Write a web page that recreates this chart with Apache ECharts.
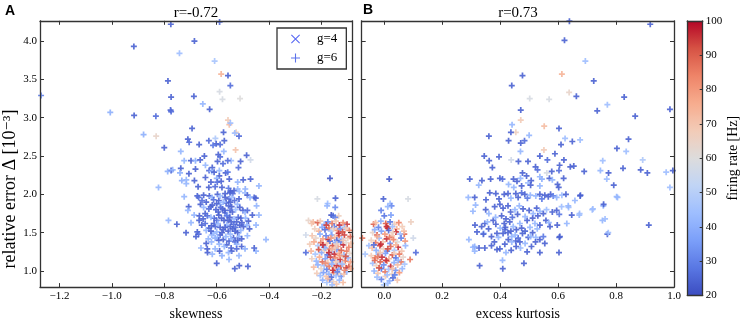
<!DOCTYPE html>
<html><head><meta charset="utf-8">
<script src="https://cdn.jsdelivr.net/npm/echarts@6/dist/echarts.min.js"></script>
<style>html,body{margin:0;padding:0;background:#fff}#c{width:743px;height:326px}</style>
</head><body><div id="c"></div>
<script>
// [skewness, relative error (1e-3), firing rate Hz]
const aSpread = [
[-0.775,4.22,24],[-0.589,4.25,26],[-0.916,3.93,24],[-0.685,4.00,24],[-0.742,3.84,44],[-0.608,3.74,46],[-0.583,3.57,74],[-0.557,3.55,24],[-0.548,3.42,26],[-0.589,3.34,58],[-0.578,3.24,58],[-0.511,3.25,60],[-0.786,3.48,24],[-0.774,3.27,24],[-0.776,3.10,24],[-0.774,3.08,26],[-0.687,3.28,24],[-0.653,3.18,42],[-0.627,3.11,24],[-1.006,3.07,40],[-0.915,3.03,24],[-0.832,3.02,26],[-0.879,2.78,40],[-0.831,2.76,64],[-0.694,2.86,24],[-1.27,3.29,30],[-0.557,2.97,68],[-0.552,2.91,72],[-0.548,2.93,44],[-0.574,2.81,24],[-0.526,2.81,66],[-0.531,2.80,44],[-0.515,2.76,26],[-0.710,2.72,24],[-0.705,2.68,26],[-0.667,2.65,24],[-0.630,2.70,26],[-0.605,2.73,48],[-0.602,2.66,24],[-0.587,2.65,26],[-0.614,2.64,28],[-0.571,2.70,24],[-0.800,2.61,24],[-0.737,2.56,42],[-0.573,2.56,42],[-0.528,2.58,70],[-0.486,2.51,24],[-0.471,2.45,56],[-0.647,2.50,24],[-0.594,2.52,24],[-0.587,2.49,26],
[-0.724,2.44,42],[-0.698,2.44,24],[-0.681,2.44,40],[-0.663,2.45,24],[-0.643,2.38,42],[-0.597,2.43,24],[-0.576,2.40,26],[-0.545,2.44,44],[-0.558,2.44,26],[-0.509,2.43,24],[-0.517,2.35,26],[-0.737,2.34,24],[-0.774,2.31,24],[-0.768,2.32,42],[-0.787,2.30,40],[-0.740,2.28,40],[-0.706,2.27,24],[-0.617,2.35,24],[-0.629,2.31,26],[-0.619,2.30,42],[-0.610,2.29,24],[-0.590,2.31,42],[-0.566,2.28,24],[-0.558,2.29,28],[-0.590,2.24,24],[-0.643,2.22,24],[-0.600,2.21,40],[-0.622,2.16,24],[-0.598,2.16,26],[-0.583,2.17,24],[-0.552,2.20,24],[-0.499,2.19,24],[-0.471,2.20,24],[-0.439,2.11,42],[-0.822,2.09,42],[-0.716,2.14,42],[-0.733,2.18,40],[-0.716,2.19,42],[-0.685,2.18,24],[-0.671,2.10,24],[-0.630,2.09,24],[-0.606,2.10,26],[-0.580,2.09,24],[-0.555,2.08,28],[-0.520,2.07,42],[-0.491,2.07,40],[-0.457,1.96,24],[-0.681,2.33,24],[-0.520,2.16,42],[-0.548,2.04,24],
[-0.724,1.97,42],[-0.674,1.98,24],[-0.669,1.96,26],[-0.650,1.99,24],[-0.628,1.98,24],[-0.618,1.96,42],[-0.597,2.00,24],[-0.586,1.98,44],[-0.568,2.01,24],[-0.549,2.02,24],[-0.539,2.01,26],[-0.534,2.05,24],[-0.514,2.04,44],[-0.492,2.02,44],[-0.483,1.99,24],[-0.473,1.96,42],[-0.451,1.95,24],[-0.568,1.96,24],[-0.553,1.94,24],[-0.543,1.96,44],
[-0.707,1.84,24],[-0.710,1.79,42],[-0.662,1.87,24],[-0.656,1.92,26],[-0.623,1.84,24],[-0.630,1.81,26],[-0.617,1.86,24],[-0.592,1.92,24],[-0.587,1.87,44],[-0.578,1.81,24],[-0.564,1.89,24],[-0.555,1.85,26],[-0.543,1.84,24],[-0.521,1.87,42],[-0.500,1.79,24],[-0.492,1.77,42],[-0.483,1.79,26],[-0.464,1.73,24],[-0.448,1.85,42],[-0.594,1.77,24],[-0.568,1.76,24],[-0.559,1.73,44],[-0.549,1.79,26],
[-0.686,1.73,42],[-0.666,1.72,24],[-0.644,1.75,24],[-0.636,1.72,26],[-0.667,1.66,24],[-0.610,1.69,24],[-0.600,1.66,26],[-0.582,1.69,24],[-0.562,1.72,28],[-0.557,1.66,24],[-0.544,1.64,24],[-0.534,1.68,42],[-0.524,1.64,24],[-0.518,1.70,26],[-0.508,1.69,24],[-0.504,1.63,24],[-0.490,1.69,42],[-0.479,1.65,24],[-0.439,1.73,42],[-0.784,1.66,42],[-0.698,1.63,42],[-0.752,1.61,24],
[-0.657,1.60,24],[-0.644,1.62,26],[-0.630,1.56,24],[-0.610,1.62,24],[-0.605,1.58,26],[-0.600,1.51,42],[-0.587,1.57,24],[-0.575,1.54,24],[-0.562,1.60,42],[-0.556,1.52,24],[-0.540,1.55,24],[-0.528,1.57,26],[-0.520,1.50,24],[-0.508,1.53,42],[-0.498,1.58,24],[-0.485,1.60,42],[-0.475,1.55,24],[-0.450,1.60,42],[-0.613,1.49,42],[-0.587,1.47,24],[-0.674,1.51,24],[-0.717,1.50,24],[-0.669,1.48,26],
[-0.679,1.45,24],[-0.619,1.47,42],[-0.606,1.43,40],[-0.597,1.44,42],[-0.575,1.41,24],[-0.565,1.45,42],[-0.553,1.39,24],[-0.536,1.43,24],[-0.530,1.38,26],[-0.514,1.45,42],[-0.505,1.42,24],[-0.483,1.46,42],[-0.412,1.41,42],[-0.632,1.42,42],[-0.524,1.35,42],[-0.505,1.32,24],[-0.492,1.29,40],[-0.562,1.34,24],[-0.571,1.32,42],[-0.450,1.26,42],[-0.457,1.30,24],[-0.620,1.38,42],[-0.640,1.36,24],
[-0.636,1.29,24],[-0.606,1.29,42],[-0.589,1.26,24],[-0.635,1.24,24],[-0.617,1.22,42],[-0.553,1.15,42],[-0.600,1.10,24],[-0.531,1.03,24],[-0.514,1.07,24],[-0.481,1.06,24],[-0.543,1.26,24],[-0.524,1.29,26],[-0.555,1.24,42],[-0.515,1.20,42],[-0.660,1.30,42],[-0.580,1.20,40],
[-0.640,1.90,24],[-0.612,1.93,26],[-0.600,1.88,24],[-0.575,1.90,42],[-0.548,1.90,24],[-0.532,1.92,26],[-0.515,1.94,24],[-0.650,1.83,42],[-0.603,1.80,24],[-0.585,1.83,26],[-0.570,1.79,24],[-0.540,1.77,24],[-0.528,1.80,44],[-0.512,1.83,24],[-0.652,1.68,24],[-0.622,1.70,42],[-0.592,1.73,24],[-0.572,1.66,24],[-0.550,1.70,24],[-0.535,1.61,26],[-0.620,1.59,24],[-0.595,1.62,42],[-0.568,1.57,24],[-0.548,1.58,24],[-0.512,1.60,24],[-0.640,1.53,42],[-0.622,1.52,24],[-0.580,1.50,24],[-0.548,1.48,42],[-0.530,1.52,24],[-0.592,1.40,24],[-0.545,1.42,42],[-0.520,1.40,24],[-0.590,1.35,42],[-0.545,1.30,24]
];
const aCluster = [
[-0.168,2.21,22],[-0.216,1.94,58],[-0.147,1.95,24],[-0.177,1.88,44],[-0.179,1.85,42],[-0.148,1.83,32],[-0.163,1.73,22],[-0.156,1.72,26],[-0.135,1.72,66],[-0.148,1.70,30],[-0.260,1.47,56],[-0.260,1.24,26],[-0.250,1.66,64],[-0.238,1.62,70],
[-0.232,1.64,72],[-0.215,1.63,90],[-0.205,1.65,68],[-0.190,1.61,44],[-0.176,1.64,32],[-0.160,1.62,86],[-0.145,1.65,70],[-0.132,1.60,96],[-0.118,1.63,82],[-0.103,1.61,95],[-0.112,1.57,40],
[-0.226,1.55,66],[-0.210,1.52,74],[-0.198,1.57,38],[-0.187,1.54,26],[-0.172,1.56,88],[-0.165,1.52,46],[-0.152,1.58,28],[-0.140,1.53,80],[-0.128,1.55,34],[-0.120,1.51,92],[-0.108,1.56,68],[-0.094,1.53,85],
[-0.236,1.46,70],[-0.222,1.43,64],[-0.206,1.48,40],[-0.195,1.42,78],[-0.183,1.46,30],[-0.174,1.41,96],[-0.161,1.47,36],[-0.150,1.44,72],[-0.142,1.40,24],[-0.133,1.46,86],[-0.124,1.42,44],[-0.113,1.47,94],[-0.100,1.43,66],[-0.090,1.45,88],
[-0.245,1.35,68],[-0.229,1.38,76],[-0.214,1.33,48],[-0.203,1.37,86],[-0.191,1.31,34],[-0.180,1.36,70],[-0.168,1.39,26],[-0.158,1.33,92],[-0.147,1.37,40],[-0.138,1.32,80],[-0.127,1.38,30],[-0.117,1.34,96],[-0.106,1.37,62],[-0.096,1.31,84],[-0.088,1.36,72],
[-0.240,1.26,74],[-0.224,1.22,46],[-0.211,1.28,92],[-0.200,1.24,38],[-0.189,1.27,68],[-0.178,1.21,28],[-0.170,1.29,84],[-0.160,1.25,44],[-0.151,1.22,96],[-0.142,1.28,34],[-0.133,1.23,76],[-0.125,1.27,90],[-0.115,1.21,40],[-0.104,1.26,86],[-0.093,1.23,64],[-0.186,1.30,42],[-0.148,1.30,70],
[-0.237,1.16,66],[-0.220,1.13,42],[-0.208,1.18,76],[-0.197,1.12,88],[-0.186,1.16,36],[-0.176,1.11,70],[-0.166,1.18,94],[-0.156,1.14,30],[-0.147,1.17,84],[-0.138,1.11,46],[-0.129,1.15,96],[-0.120,1.19,62],[-0.110,1.13,86],[-0.099,1.17,42],[-0.090,1.12,78],
[-0.230,1.05,72],[-0.214,1.08,40],[-0.202,1.03,64],[-0.190,1.07,44],[-0.180,1.02,30],[-0.171,1.06,86],[-0.161,1.09,40],[-0.152,1.04,74],[-0.143,1.07,96],[-0.134,1.02,38],[-0.126,1.06,92],[-0.116,1.09,66],[-0.106,1.04,96],[-0.096,1.06,90],[-0.088,1.03,76],
[-0.218,0.97,68],[-0.205,0.94,44],[-0.193,0.98,36],[-0.182,0.93,70],[-0.172,0.96,40],[-0.163,0.92,26],[-0.154,0.98,82],[-0.145,0.94,44],[-0.135,0.97,66],[-0.125,0.93,34],[-0.115,0.96,70],[-0.104,0.99,42],
[-0.196,0.88,40],[-0.180,0.85,46],[-0.168,0.89,28],[-0.155,0.86,66],[-0.143,0.83,70],[-0.132,0.88,42],[-0.118,0.85,72],[-0.160,0.82,44],
[-0.182,1.60,94],[-0.155,1.55,66],[-0.135,1.49,96],[-0.165,1.43,80],[-0.118,1.40,70],[-0.195,1.34,96],[-0.142,1.35,66],[-0.162,1.28,74],[-0.131,1.20,80],[-0.172,1.24,96],[-0.108,1.19,92],[-0.145,1.12,68],[-0.185,1.10,82],[-0.122,1.09,44],[-0.157,1.01,96],[-0.112,1.01,84],[-0.140,0.99,30],[-0.176,0.90,72]
];
// [excess kurtosis, relative error (1e-3), firing rate Hz]
const bSpread = [
[0.639,4.26,24],[0.918,4.22,24],[0.622,4.01,24],[0.694,3.74,44],[0.477,3.55,24],[0.613,3.57,74],[0.723,3.48,24],[0.440,3.42,24],[0.638,3.33,64],[0.663,3.28,24],[0.502,3.25,58],[0.569,3.24,58],[0.828,3.27,24],[0.770,3.17,44],[0.735,3.09,24],[0.986,3.11,24],[0.471,3.10,24],[0.471,2.97,68],[0.866,3.02,24],[0.441,2.91,42],[0.552,2.89,72],[0.454,2.81,66],[0.843,2.72,24],[0.835,2.56,44],[0.892,2.45,48],[0.824,2.34,24],[0.885,2.32,24],[0.908,2.28,24],[0.973,2.29,44],[0.996,2.31,24],[0.986,2.09,44],[0.913,1.60,24],[0.770,1.48,24],[0.756,1.85,42],[0.753,1.66,42],[0.603,1.24,24],[0.604,1.44,24],[0.636,1.83,44],[0.674,1.75,44],[0.676,1.98,24],[0.718,1.80,44],[0.802,1.97,42],[0.774,2.28,24],[0.746,2.31,42],[0.754,2.44,44],[0.768,2.20,44],[0.792,2.12,24],[0.690,2.30,24],[0.642,2.36,24],
[0.437,2.81,24],[0.603,2.86,24],[0.361,2.76,24],[0.500,2.77,42],[0.429,2.70,24],[0.471,2.67,24],[0.484,2.70,26],[0.624,2.73,44],[0.676,2.71,44],[0.649,2.69,24],[0.610,2.65,24],[0.551,2.58,68],[0.803,2.60,24],[0.470,2.56,42],[0.345,2.50,24],[0.396,2.49,24],[0.362,2.44,24],[0.438,2.45,56],[0.463,2.43,24],[0.496,2.43,24],[0.537,2.50,24],[0.563,2.45,26],[0.589,2.53,24],[0.620,2.45,24],[0.605,2.38,24],[0.603,2.31,26],[0.654,2.37,24],[0.373,2.35,24],[0.522,2.36,24],[0.529,2.32,26],[0.477,2.28,24],[0.491,2.24,24],[0.470,2.21,42],[0.496,2.15,44],[0.507,2.18,24],[0.537,2.23,42],[0.544,2.20,40],[0.570,2.21,24],[0.580,2.19,42],[0.561,2.28,58],[0.578,2.30,24],[0.619,2.21,24],[0.598,2.13,24],[0.602,2.09,24],[0.295,2.20,24],[0.337,2.18,24],[0.367,2.20,24],[0.399,2.21,24],[0.408,2.20,26],[0.446,2.20,24],[0.458,2.17,24],[0.326,2.12,42],[0.429,2.13,42],[0.447,2.09,42],[0.474,2.11,24],[0.505,2.12,24],[0.537,2.11,42],
[0.290,1.96,42],[0.312,1.96,24],[0.351,1.93,24],[0.364,2.02,24],[0.385,2.01,24],[0.396,1.94,24],[0.414,2.00,24],[0.427,2.01,24],[0.437,1.95,42],[0.454,2.01,24],[0.462,1.96,24],[0.474,2.02,26],[0.485,2.00,24],[0.494,1.95,28],[0.504,1.99,42],[0.523,1.98,42],[0.537,2.00,24],[0.544,1.94,28],[0.554,1.99,24],[0.566,1.97,24],[0.574,2.00,24],[0.583,1.98,30],[0.595,1.96,42],[0.613,1.99,44],[0.627,2.00,24],[0.658,1.92,42],[0.677,1.99,24],[0.720,1.81,44],[0.762,1.68,44],[0.757,1.87,24],[0.805,1.96,42],[0.773,1.50,44],
[0.315,1.86,42],[0.306,1.78,42],[0.350,1.80,24],[0.361,1.75,42],[0.381,1.84,24],[0.399,1.87,24],[0.410,1.82,24],[0.427,1.85,24],[0.436,1.77,24],[0.451,1.80,42],[0.466,1.85,42],[0.479,1.81,24],[0.500,1.79,24],[0.514,1.75,42],[0.526,1.82,24],[0.537,1.78,42],[0.549,1.75,24],[0.560,1.80,44],[0.580,1.77,24],[0.595,1.79,24],[0.604,1.74,28],[0.612,1.84,44],[0.635,1.85,42],[0.647,1.73,24],[0.673,1.73,44],
[0.313,1.60,24],[0.292,1.41,42],[0.336,1.58,24],[0.347,1.62,24],[0.356,1.64,42],[0.376,1.66,24],[0.385,1.61,24],[0.400,1.56,42],[0.414,1.62,24],[0.416,1.54,26],[0.433,1.64,24],[0.445,1.58,42],[0.456,1.54,24],[0.468,1.62,42],[0.474,1.56,24],[0.493,1.66,24],[0.503,1.57,42],[0.520,1.62,42],[0.537,1.60,24],[0.558,1.66,24],[0.568,1.63,42],[0.572,1.58,24],[0.597,1.60,24],[0.630,1.62,42],
[0.606,1.45,24],[0.320,1.51,24],[0.343,1.49,42],[0.370,1.45,24],[0.389,1.49,24],[0.394,1.44,42],[0.410,1.49,24],[0.427,1.50,24],[0.440,1.45,42],[0.454,1.39,24],[0.462,1.43,26],[0.477,1.49,24],[0.497,1.44,24],[0.505,1.45,42],[0.523,1.44,42],[0.537,1.41,24],[0.549,1.45,28],[0.554,1.36,24],[0.342,1.48,24],
[0.306,1.31,42],[0.312,1.26,42],[0.327,1.30,24],[0.347,1.30,24],[0.370,1.33,24],[0.389,1.28,24],[0.399,1.29,24],[0.440,1.38,42],[0.470,1.30,42],[0.493,1.25,24],[0.468,1.38,24],[0.508,1.32,24],[0.438,1.27,24],
[0.537,1.24,24],[0.482,1.10,24],[0.408,1.14,42],[0.409,1.03,24],[0.329,1.07,24],[0.312,1.32,40],
[0.384,1.70,42],[0.405,1.72,24],[0.420,1.68,24],[0.442,1.70,26],[0.460,1.74,24],[0.486,1.71,42],[0.512,1.69,24],[0.530,1.72,24],[0.418,1.57,24],[0.437,1.52,24],[0.452,1.47,42],[0.486,1.52,24],[0.512,1.50,24],[0.528,1.55,42],[0.380,1.38,24],[0.416,1.35,24],[0.428,1.41,24],[0.486,1.36,42],[0.522,1.38,24],[0.360,1.55,24],[0.455,1.32,24],[0.420,1.24,42]
];
const bCluster = [
[0.017,2.20,22],[-0.003,1.94,24],[0.082,1.94,58],[0.020,1.88,44],[0.025,1.85,32],[0.012,1.84,42],[-0.011,1.79,30],[0.000,1.72,28],[0.023,1.73,36],[0.092,1.64,66],[0.100,1.43,56],[0.109,1.24,26],[0.089,1.15,86],[-0.037,1.61,90],[-0.053,1.33,44],[-0.066,1.22,46],[-0.076,1.43,86],[0.069,1.48,88],[0.062,1.58,68],
[-0.030,1.63,72],[-0.012,1.65,40],[0.005,1.62,90],[0.020,1.64,28],[0.035,1.61,68],[0.050,1.63,84],[-0.020,1.57,30],[0.012,1.56,95],[0.028,1.58,44],[0.043,1.55,74],
[-0.040,1.50,64],[-0.025,1.47,92],[-0.010,1.52,36],[0.002,1.48,80],[0.015,1.53,26],[0.027,1.46,70],[0.040,1.51,96],[0.055,1.48,44],[0.068,1.52,72],[-0.033,1.54,40],
[-0.045,1.40,66],[-0.030,1.37,86],[-0.018,1.43,44],[-0.005,1.38,70],[0.008,1.42,96],[0.020,1.36,34],[0.032,1.41,84],[0.045,1.38,60],[0.058,1.43,30],[0.072,1.39,80],[-0.024,1.45,74],
[-0.042,1.30,72],[-0.028,1.27,40],[-0.015,1.33,94],[-0.003,1.29,66],[0.010,1.26,30],[0.022,1.32,88],[0.035,1.27,46],[0.048,1.31,96],[0.060,1.26,70],[0.073,1.33,42],[-0.036,1.34,26],
[-0.045,1.20,68],[-0.032,1.17,84],[-0.020,1.22,42],[-0.008,1.18,96],[0.004,1.23,36],[0.016,1.16,74],[0.028,1.21,92],[0.040,1.17,28],[0.052,1.22,86],[0.065,1.18,64],[-0.014,1.24,70],
[-0.040,1.10,44],[-0.027,1.07,66],[-0.014,1.12,90],[-0.002,1.08,32],[0.010,1.13,80],[0.022,1.06,96],[0.034,1.11,40],[0.046,1.08,72],[0.058,1.12,86],[0.070,1.09,46],[-0.033,1.14,88],
[-0.035,1.00,40],[-0.022,0.97,70],[-0.010,1.03,28],[0.003,0.99,86],[0.015,1.02,44],[0.027,0.96,66],[0.039,1.01,34],[0.052,0.98,80],[0.062,1.03,42],
[-0.025,0.92,44],[-0.010,0.89,30],[0.004,0.93,68],[0.018,0.87,40],[0.030,0.91,26],[0.045,0.88,70],[0.012,0.84,44],[-0.002,0.82,46],
[0.008,1.58,96],[0.030,1.50,66],[0.018,1.44,86],[-0.012,1.35,96],[0.040,1.34,74],[0.012,1.29,92],[-0.022,1.19,86],[0.034,1.23,68],[0.006,1.14,96],[0.048,1.14,40],[-0.018,1.04,92],[0.028,1.03,72],[0.010,0.95,44],[0.036,0.95,30]
];
const panelTitles = ['r=-0.72', 'r=0.73'];
const panelLetters = ['A', 'B'];
const legendNames = ['g=4', 'g=6'];
const coolwarm = ['#3b4cc0','#5977e3','#7b9ff9','#9ebeff','#c0d4f5','#dddcdc','#f2cbb7','#f7ac8e','#ee8468','#d65244','#b40426'];

const SERIF = '"Liberation Serif","DejaVu Serif",serif';
const PLUS = 'path://M2.5,0H4.5V2.5H7V4.5H4.5V7H2.5V4.5H0V2.5H2.5Z';
const PLUS_ICON = 'path://M4.4,0H5.6V4.4H10V5.6H5.6V10H4.4V5.6H0V4.4H4.4Z';
const CROSS_ICON = 'path://M0,0.8L0.8,0L5,4.2L9.2,0L10,0.8L5.8,5L10,9.2L9.2,10L5,5.8L0.8,10L0,9.2L4.2,5Z';

const grids = [
  {left: 40, top: 20.8, width: 312, height: 274.6},
  {left: 361.7, top: 20.8, width: 312.3, height: 274.6},
  {left: 687.3, top: 20.8, width: 15.4, height: 274.6}
];
const lineSt = {color: '#333', width: 1.3};
function fmtStep(step) {
  return function (v) {
    const k = v / step;
    if (Math.abs(k - Math.round(k)) > 1e-6) return '';
    return v.toFixed(1).replace('-', '\u2212');
  };
}
function ax(o) {
  return Object.assign({
    type: 'value', z: 10,
    splitLine: {show: false},
    axisLine: {show: true, onZero: false, lineStyle: lineSt},
    axisTick: {show: true, inside: true, length: 4, lineStyle: {color: '#333', width: 1}},
    axisLabel: {show: false}
  }, o);
}
const lbl = (step, extra) => Object.assign({show: true, fontFamily: SERIF, fontSize: 11, color: '#000', margin: 4,
  showMinLabel: false, showMaxLabel: false, formatter: fmtStep(step)}, extra || {});
const nameSt = {fontFamily: SERIF, fontSize: 14, color: '#000'};

const xA = {min: -1.274, max: -0.084};
const xB = {min: -0.078, max: 1.0};
const yR = {min: 0.79, max: 4.265};

const option = {
  animation: false,
  grid: grids,
  xAxis: [
    ax(Object.assign({gridIndex: 0, position: 'bottom', axisLabel: lbl(0.2), name: 'skewness', nameLocation: 'middle', nameGap: 14, nameTextStyle: nameSt}, xA)),
    ax(Object.assign({gridIndex: 0, position: 'top'}, xA)),
    ax(Object.assign({gridIndex: 1, position: 'bottom', axisLabel: lbl(0.2, {showMaxLabel: true}), name: 'excess kurtosis', nameLocation: 'middle', nameGap: 14, nameTextStyle: nameSt}, xB)),
    ax(Object.assign({gridIndex: 1, position: 'top'}, xB)),
    ax({gridIndex: 2, position: 'bottom', min: 0, max: 1, axisTick: {show: false}}),
    ax({gridIndex: 2, position: 'top', min: 0, max: 1, axisTick: {show: false}})
  ],
  yAxis: [
    ax(Object.assign({gridIndex: 0, position: 'left', axisLabel: lbl(0.5, {margin: 3}), name: 'relative error \u0394 [10\u207B\u00B3]', nameLocation: 'middle', nameGap: 17, nameRotate: 90,
      nameTextStyle: {fontFamily: SERIF, fontSize: 18, color: '#000', padding: [0, 70, 0, 0]}}, yR)),
    ax(Object.assign({gridIndex: 0, position: 'right'}, yR)),
    ax(Object.assign({gridIndex: 1, position: 'left'}, yR)),
    ax(Object.assign({gridIndex: 1, position: 'right'}, yR)),
    ax({gridIndex: 2, position: 'left', min: 20, max: 100, axisTick: {show: false}}),
    ax({gridIndex: 2, position: 'right', min: 20, max: 100, interval: 10, axisTick: {show: true, inside: true, length: 3, lineStyle: {color: '#333'}},
        axisLabel: {show: true, fontFamily: SERIF, fontSize: 11, color: '#000', margin: 3},
        name: 'firing rate [Hz]', nameLocation: 'middle', nameGap: 23, nameRotate: 90, nameTextStyle: nameSt})
  ],
  visualMap: [{
    type: 'continuous', min: 20, max: 100, dimension: 2, seriesIndex: [0, 1],
    inRange: {color: coolwarm}, calculable: false, hoverLink: false,
    left: 687.3, top: 20.8, itemWidth: 15.4, itemHeight: 274.6, padding: 0, orient: 'vertical'
  }],
  legend: {
    orient: 'vertical', left: 277, top: 28, padding: [4, 9, 4, 14], itemGap: 5,
    itemWidth: 9, itemHeight: 9, borderColor: '#333', borderWidth: 1.3, backgroundColor: '#fff',
    selectedMode: false,
    textStyle: {fontFamily: SERIF, fontSize: 13, color: '#000', padding: [0, 0, 0, 12], lineHeight: 14},
    data: [
      {name: legendNames[0], icon: CROSS_ICON, itemStyle: {color: '#2a3ef0'}},
      {name: legendNames[1], icon: PLUS_ICON, itemStyle: {color: '#4a63e8'}}
    ]
  },
  graphic: [
    {type: 'text', x: 5, y: 11, style: {text: panelLetters[0], font: 'bold 14px "Liberation Sans",Arial,sans-serif', fill: '#000', align: 'left', verticalAlign: 'middle'}},
    {type: 'text', x: 363, y: 10, style: {text: panelLetters[1], font: 'bold 14px "Liberation Sans",Arial,sans-serif', fill: '#000', align: 'left', verticalAlign: 'middle'}},
    {type: 'text', x: 196, y: 13, style: {text: panelTitles[0], font: '15px "Liberation Serif",serif', fill: '#000', align: 'center', verticalAlign: 'middle'}},
    {type: 'text', x: 518, y: 13, style: {text: panelTitles[1], font: '15px "Liberation Serif",serif', fill: '#000', align: 'center', verticalAlign: 'middle'}}
  ],
  series: [
    {type: 'scatter', name: legendNames[1], xAxisIndex: 0, yAxisIndex: 0, data: aSpread.concat(aCluster),
      symbol: PLUS, symbolSize: 6, itemStyle: {opacity: 0.9}, silent: true},
    {type: 'scatter', name: legendNames[1], xAxisIndex: 2, yAxisIndex: 2, data: bSpread.concat(bCluster),
      symbol: PLUS, symbolSize: 6, itemStyle: {opacity: 0.9}, silent: true},
    {type: 'scatter', name: legendNames[0], xAxisIndex: 0, yAxisIndex: 0, data: [], symbol: CROSS_ICON, silent: true}
  ]
};
const chart = echarts.init(document.getElementById('c'), null, {renderer: 'canvas'});
chart.setOption(option);
</script>
</body></html>
